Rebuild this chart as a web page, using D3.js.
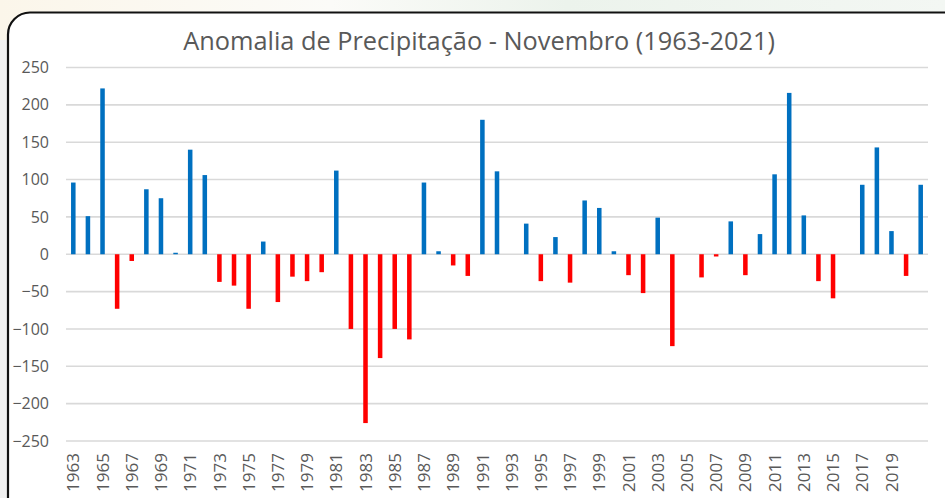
<!DOCTYPE html>
<html>
<head>
<meta charset="utf-8">
<script src="https://cdn.jsdelivr.net/npm/d3@7"></script>
<style>
  html, body { margin: 0; padding: 0; background: #f2f2f2; }
  svg { display: block; }
</style>
</head>
<body>
<svg id="chart" width="945" height="498"></svg>
<script>
const title = "Anomalia de Precipitação - Novembro (1963-2021)";
const years = [1963,1964,1965,1966,1967,1968,1969,1970,1971,1972,1973,1974,1975,1976,1977,1978,1979,1980,
  1981,1982,1983,1984,1985,1986,1987,1988,1989,1990,1991,1992,1993,1994,1995,1996,1997,1998,1999,2000,
  2001,2002,2003,2004,2005,2006,2007,2008,2009,2010,2011,2012,2013,2014,2015,2016,2017,2018,2019,2020,2021];
const anomalies = [96,51,222,-73,-9,87,75,2,140,106,-37,-42,-73,17,-64,-30,-36,-24,
  112,-100,-226,-139,-100,-114,96,4,-15,-29,180,111,0,41,-36,23,-38,72,62,4,
  -28,-52,49,-123,0,-31,-3,44,-28,27,107,216,52,-36,-59,0,93,143,31,-29,93];
const yTicks = [250,200,150,100,50,0,-50,-100,-150,-200,-250];
const xTickLabels = [1963,1965,1967,1969,1971,1973,1975,1977,1979,1981,1983,1985,1987,1989,1991,1993,
  1995,1997,1999,2001,2003,2005,2007,2009,2011,2013,2015,2017,2019];
const posColor = "#0070C0", negColor = "#FF0000";

const svg = d3.select("#chart");
const W = 945, H = 498;

// background outside frame
const defs = svg.append("defs");
const g1 = defs.append("linearGradient").attr("id","topbg").attr("x1","0").attr("x2","1").attr("y1","0").attr("y2","0");
g1.append("stop").attr("offset","0").attr("stop-color","#fbf6ea");
g1.append("stop").attr("offset","0.35").attr("stop-color","#fbfbf8");
g1.append("stop").attr("offset","0.6").attr("stop-color","#ecf3ec");
g1.append("stop").attr("offset","1").attr("stop-color","#f3f7f3");
svg.append("rect").attr("x",0).attr("y",0).attr("width",W).attr("height",H).attr("fill","#f0f0f0");
svg.append("rect").attr("x",0).attr("y",0).attr("width",W).attr("height",40).attr("fill","url(#topbg)");

// frame
svg.append("rect").attr("x",8.5).attr("y",13.5).attr("width",960).attr("height",520).attr("rx",22)
  .attr("fill","none").attr("stroke","#b0b0b0").attr("stroke-width",2);
svg.append("rect").attr("x",8).attr("y",12.5).attr("width",960).attr("height",520).attr("rx",22)
  .attr("fill","#ffffff").attr("stroke","#111111").attr("stroke-width",2.2);

const x = d3.scaleBand().domain(years).range([66, 928]).paddingInner(0.69).paddingOuter(0.345);
const y = d3.scaleLinear().domain([-250, 250]).range([441, 67.5]);

// gridlines
svg.append("g").selectAll("line").data(yTicks).join("line")
  .attr("x1", 66).attr("x2", 928)
  .attr("y1", d => y(d)).attr("y2", d => y(d))
  .attr("stroke", "#d9d9d9").attr("stroke-width", 1.6);

// y axis labels
const yAxis = d3.axisLeft(y).tickValues(yTicks).tickSize(0).tickPadding(0);
const ya = svg.append("g").attr("transform", "translate(49,0)").call(yAxis);
ya.select(".domain").remove();
ya.selectAll("text").attr("font-family","'Open Sans', sans-serif").attr("font-size",16).attr("fill","#595959");

// bars
svg.append("g").selectAll("rect").data(years.map((yr,i)=>({yr, v: anomalies[i]}))).join("rect")
  .attr("x", d => x(d.yr))
  .attr("width", x.bandwidth())
  .attr("y", d => y(Math.max(0, d.v)))
  .attr("height", d => Math.abs(y(d.v) - y(0)))
  .attr("fill", d => d.v >= 0 ? posColor : negColor);

// x axis labels
const xAxis = d3.axisBottom(x).tickValues(xTickLabels).tickSize(0).tickPadding(0);
const xa = svg.append("g").attr("transform", "translate(0,453)").call(xAxis);
xa.select(".domain").remove();
xa.selectAll("text")
  .attr("font-family","'Open Sans', sans-serif").attr("font-size",17).attr("fill","#595959")
  .attr("transform","rotate(-90)").attr("text-anchor","end")
  .attr("x", 0).attr("y", 0).attr("dy","0.36em");

// title
const t = svg.append("text").attr("x", 479).attr("y", 50).attr("text-anchor","middle")
  .attr("font-family","'Open Sans', sans-serif").attr("font-size",24).attr("fill","#595959")
  .text(title);
const tw = t.node().getComputedTextLength();
t.attr("font-size", 24 * 592 / tw);
</script>
</body>
</html>
